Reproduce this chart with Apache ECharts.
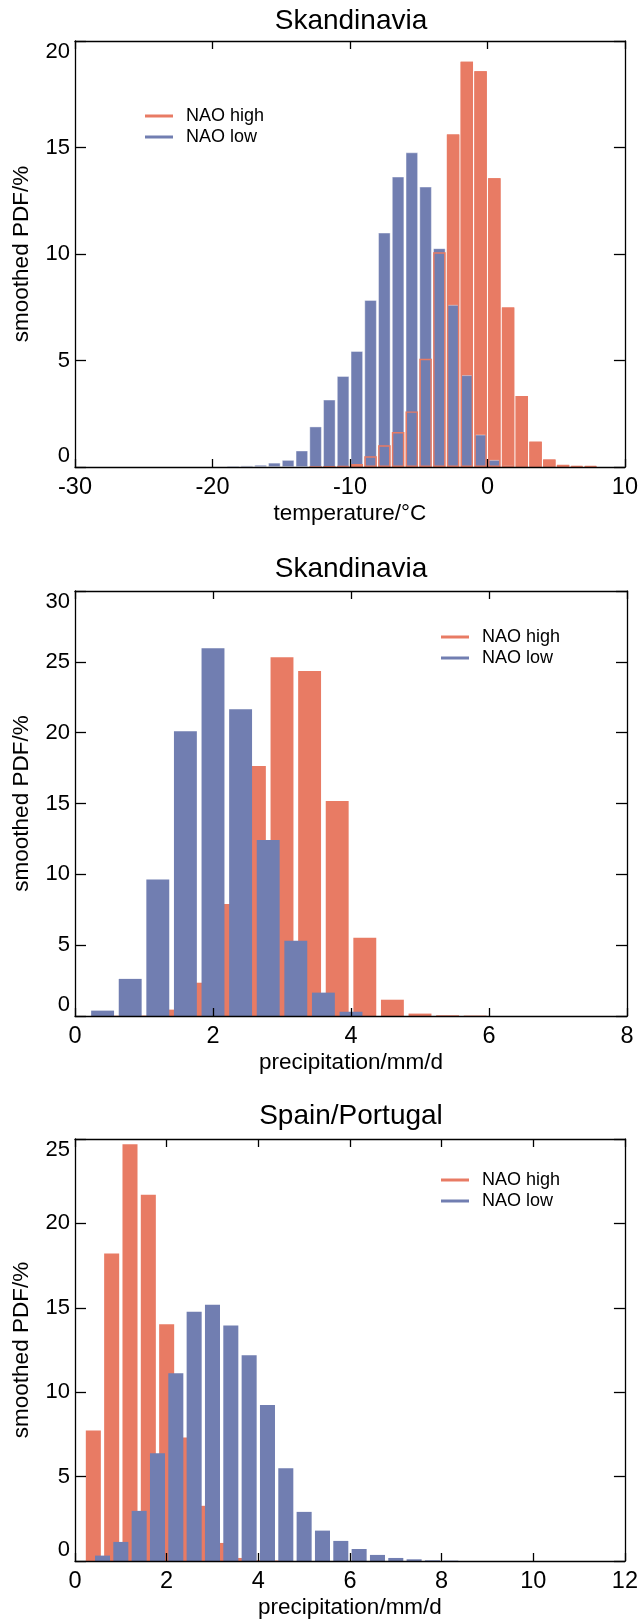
<!DOCTYPE html>
<html><head><meta charset="utf-8">
<script src="https://cdn.jsdelivr.net/npm/echarts@6/dist/echarts.min.js"></script>
<style>html,body{margin:0;padding:0;background:#fff}#c{width:641px;height:1620px}</style>
</head><body><div id="c"></div>
<script>
// ---- Panel 1: Skandinavia temperature (bin centres, °C) ----
const tempBins = [-18.5,-17.5,-16.5,-15.5,-14.5,-13.5,-12.5,-11.5,-10.5,-9.5,-8.5,-7.5,-6.5,-5.5,-4.5,-3.5,-2.5,-1.5,-0.5,0.5,1.5,2.5,3.5,4.5,5.5,6.5,7.5];
const tempHigh = [0,0,0,0,0,0,0.01,0.03,0.05,0.14,0.5,1.02,1.64,2.61,5.08,10.08,15.61,19.02,18.58,13.56,7.49,3.33,1.19,0.35,0.1,0.05,0.04];
const tempLow  = [0.06,0.07,0.1,0.2,0.33,0.77,1.9,3.16,4.27,5.44,7.84,11.0,13.63,14.77,13.16,10.27,7.61,4.31,1.52,0.33,0.07,0.02,0,0,0,0,0];

// ---- Panel 2: Skandinavia precipitation (mm/d) ----
const skpHighBins = [0.6,1.0,1.4,1.8,2.2,2.6,3.0,3.4,3.8,4.2,4.6,5.0,5.4,5.8];
const skpHigh     = [0.02,0.03,0.45,2.35,7.9,17.65,25.33,24.35,15.18,5.52,1.15,0.17,0.05,0.03];
const skpLowBins  = [0.4,0.8,1.2,1.6,2.0,2.4,2.8,3.2,3.6,4.0];
const skpLow      = [0.38,2.62,9.63,20.1,25.96,21.66,12.43,5.31,1.65,0.3];

// ---- Panel 3: Spain/Portugal precipitation (mm/d) ----
const spHighBins = [0.4,0.8,1.2,1.6,2.0,2.4,2.8,3.2,3.6,4.0,4.4];
const spHigh     = [7.73,18.22,24.69,21.69,14.02,7.31,3.27,1.07,0.18,0.04,0.03];
const spLowBins  = [0.6,1.0,1.4,1.8,2.2,2.6,3.0,3.4,3.8,4.2,4.6,5.0,5.4,5.8,6.2,6.6,7.0,7.4,7.8,8.2];
const spLow      = [0.32,1.13,2.97,6.38,11.12,14.76,15.18,13.95,12.19,9.24,5.5,2.91,1.8,1.19,0.71,0.36,0.18,0.1,0.04,0.02];

const titles = ['Skandinavia','Skandinavia','Spain/Portugal'];
const xNames = ['temperature/\u00b0C','precipitation/mm/d','precipitation/mm/d'];
const yName = 'smoothed PDF/%';
const legendNames = ['NAO high','NAO low'];

const FONT = '"Liberation Sans", Arial, sans-serif';
const RED = '#E87B64', BLUE = '#717EB1', INK = '#000';

const toXY = (xs, ys) => xs.map((x, i) => [x, ys[i]]);

const gridsPos = [
  {left:75, top:41, width:552, height:426},
  {left:75, top:591, width:552, height:425},
  {left:75, top:1139, width:552, height:426}
];
const xRanges = [[-30,10,10],[0,8,2],[0,12,2]];
const yMax = [20,30,25];
const titleTop = [7, 555, 1102];
const legendPos = [[145,107],[441,628],[441,1171]];

const lineStyle = {color: INK, width: 1.3};
const xAxes = [], yAxes = [], series = [], title = [], legend = [];

gridsPos.forEach((g, gi) => {
  const [mn, mx, iv] = xRanges[gi];
  const base = {type:'value', gridIndex:gi, min:mn, max:mx, interval:iv, z:10,
    splitLine:{show:false}, axisLine:{show:true, onZero:false, lineStyle}, axisTick:{show:true, inside:true, length:8, lineStyle}};
  // bottom (labelled)
  xAxes.push(Object.assign({}, base, {position:'bottom',
    axisLabel:{margin:9, fontSize:23.5, fontFamily:FONT, color:INK},
    name:xNames[gi], nameLocation:'middle', nameGap:35,
    nameTextStyle:{fontSize:22.5, fontFamily:FONT, color:INK}}));
  // top (box + ticks)
  xAxes.push(Object.assign({}, base, {position:'top', axisLabel:{show:false}}));
  if (gi === 0) xAxes.push(Object.assign({}, base, {show:false}));
  const ybase = {type:'value', gridIndex:gi, min:0, max:yMax[gi], interval:5, z:10,
    splitLine:{show:false}, axisLine:{show:true, onZero:false, lineStyle}, axisTick:{show:true, inside:true, length:11, lineStyle}};
  yAxes.push(Object.assign({}, ybase, {position:'left',
    axisLabel:{margin:5, fontSize:22, fontFamily:FONT, color:INK,
      verticalAlignMinLabel:'bottom', verticalAlignMaxLabel:'top'},
    name:yName, nameLocation:'middle', nameGap:42, nameRotate:90,
    nameTextStyle:{fontSize:22.5, fontFamily:FONT, color:INK}}));
  yAxes.push(Object.assign({}, ybase, {position:'right', axisLabel:{show:false}}));

  title.push({text:titles[gi], left:351, top:titleTop[gi], textAlign:'center', padding:0,
    textStyle:{fontSize:28, fontWeight:'normal', fontFamily:FONT, color:INK}});
  legend.push({left:legendPos[gi][0], top:legendPos[gi][1], orient:'vertical', padding:0, itemGap:3,
    itemWidth:28, itemHeight:3, icon:'rect', selectedMode:false, data:legendNames,
    itemStyle:{borderWidth:0},
    textStyle:{fontSize:18, fontFamily:FONT, color:INK, padding:[0,0,0,8]}});
});

// x axis indices: grid0 -> 0 bottom, 1 top, 2 hidden; grid1 -> 3,4; grid2 -> 5,6
const common = {type:'bar', animation:false, silent:true, emphasis:{disabled:true}};
series.push(Object.assign({}, common, {name:'NAO high', xAxisIndex:0, yAxisIndex:0, barWidth:'90%',
  data: toXY(tempBins, tempHigh), itemStyle:{color:RED}}));
series.push(Object.assign({}, common, {name:'NAO low', xAxisIndex:1, yAxisIndex:0, barWidth:'90%',
  data: toXY(tempBins, tempLow), itemStyle:{color:BLUE, borderColor:'rgba(255,255,255,0.5)', borderWidth:0.8}}));
series.push(Object.assign({}, common, {name:'NAO high outline', xAxisIndex:2, yAxisIndex:0, barWidth:'90%',
  data: toXY(tempBins, tempHigh).filter(d => d[1] > 0),
  itemStyle:{color:'rgba(0,0,0,0)', borderColor:RED, borderWidth:1.4}}));

series.push(Object.assign({}, common, {name:'NAO high', xAxisIndex:3, yAxisIndex:2, barWidth:'83%',
  data: toXY(skpHighBins, skpHigh), itemStyle:{color:RED}}));
series.push(Object.assign({}, common, {name:'NAO low', xAxisIndex:4, yAxisIndex:2, barWidth:'83%',
  data: toXY(skpLowBins, skpLow), itemStyle:{color:BLUE}}));

series.push(Object.assign({}, common, {name:'NAO high', xAxisIndex:5, yAxisIndex:4, barWidth:'82%',
  data: toXY(spHighBins, spHigh), itemStyle:{color:RED}}));
series.push(Object.assign({}, common, {name:'NAO low', xAxisIndex:6, yAxisIndex:4, barWidth:'82%',
  data: toXY(spLowBins, spLow), itemStyle:{color:BLUE}}));

const chart = echarts.init(document.getElementById('c'), null, {renderer:'canvas'});
chart.setOption({
  animation:false,
  backgroundColor:'#fff',
  title, legend,
  grid: gridsPos.map(g => Object.assign({containLabel:false}, g)),
  xAxis: xAxes, yAxis: yAxes, series
});
</script></body></html>
